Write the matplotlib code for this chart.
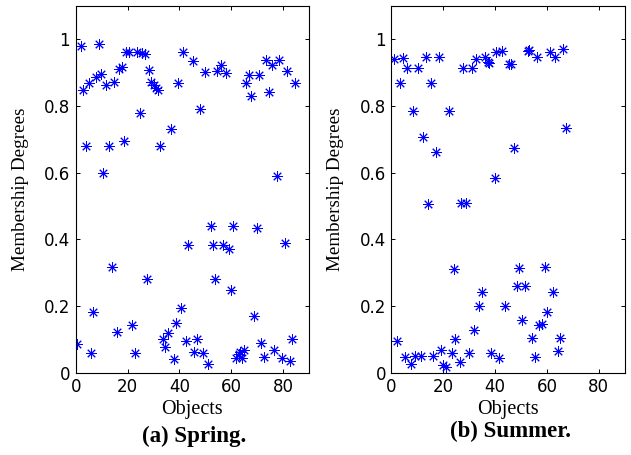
"""Membership degrees of objects per season, two side-by-side scatter panels."""

import matplotlib

matplotlib.use("Agg")
import matplotlib.pyplot as plt

# (a) Spring: object index vs membership degree
spring_x = [2, 9, 3, 5, 7.7, 9.8, 11.7, 14.8, 16.8, 17.9, 19.4, 20.6, 23.5, 25.7, 26.9,
            28.4, 29.2, 30.1, 31, 31.6, 24.7, 39.6, 41.5, 45.1, 48, 49.9, 54.6, 55.9, 57.8,
            65.7, 66.8, 67.6, 70.8, 73.4, 74.7, 75.6, 78.4, 81.5, 84.6,
            4, 12.9, 18.6, 32.5, 36.6, 10.7, 77.8,
            52, 60.5, 69.8, 43.4, 52.8, 56.7, 59, 80.7, 13.9,
            27.6, 53.9, 59.9, 6.8, 40.6, 21.6, 15.8, 38.6, 35.5, 33.5, 34.6, 0.6, 5.9, 22.9,
            42.4, 46.9, 37.8, 45.8, 49, 51, 68.9, 71.5, 72.6, 76.6, 83.5, 79.4, 82.6,
            62, 63, 63.5, 64, 65]
spring_y = [0.979, 0.985, 0.847, 0.867, 0.885, 0.895, 0.862, 0.872, 0.91, 0.917, 0.96, 0.962,
            0.96, 0.957, 0.955, 0.907, 0.872, 0.862, 0.854, 0.846, 0.779, 0.867, 0.96, 0.933,
            0.789, 0.901, 0.904, 0.922, 0.899, 0.867, 0.892, 0.829, 0.892, 0.937, 0.841, 0.922,
            0.937, 0.904, 0.867,
            0.678, 0.678, 0.693, 0.678, 0.729, 0.60, 0.591,
            0.44, 0.44, 0.435, 0.383, 0.383, 0.383, 0.37, 0.39, 0.316,
            0.281, 0.281, 0.248, 0.183, 0.195, 0.144, 0.122, 0.15, 0.119, 0.101, 0.077, 0.087,
            0.058, 0.058, 0.095, 0.102, 0.04, 0.061, 0.058, 0.026, 0.169, 0.089, 0.048, 0.067,
            0.102, 0.045, 0.035,
            0.045, 0.055, 0.062, 0.045, 0.068]

# (b) Summer
summer_x = [1.1, 4.3, 3.3, 6.1, 10.1, 8.3, 13.2, 15.2, 18.3, 22.2, 27.7, 30.9, 32.8, 36.1,
            37.1, 37.7, 40.5, 42.7, 45.3, 46.3, 52.5, 53.2, 56.1, 61.1, 63.1, 66.1, 67.2,
            12.3, 17.2, 14.2, 26.8, 28.7, 39.9, 47.2,
            2.2, 5.2, 7.4, 9.1, 11.2, 16.1, 19.1, 20, 20.9, 23.2, 24, 24.7, 26.4, 30, 31.9,
            33.9, 34.8, 38.4, 41.6, 43.8, 48.3, 49.2, 50.4, 51.5, 54.1, 55.3, 57, 58.2, 59.2,
            60, 62.3, 64.1, 65.1]
summer_y = [0.94, 0.944, 0.867, 0.914, 0.914, 0.784, 0.947, 0.867, 0.947, 0.784, 0.914, 0.914,
            0.94, 0.947, 0.93, 0.927, 0.96, 0.965, 0.925, 0.925, 0.964, 0.967, 0.947, 0.962,
            0.945, 0.969, 0.732,
            0.707, 0.661, 0.506, 0.508, 0.51, 0.583, 0.674,
            0.095, 0.048, 0.025, 0.051, 0.051, 0.051, 0.067, 0.023, 0.018, 0.058, 0.31, 0.102,
            0.031, 0.058, 0.129, 0.201, 0.243, 0.058, 0.045, 0.201, 0.259, 0.313, 0.157, 0.259,
            0.105, 0.046, 0.144, 0.147, 0.316, 0.181, 0.243, 0.064, 0.105]

x_ticks = [0, 20, 40, 60, 80]
y_ticks = [0, 0.2, 0.4, 0.6, 0.8, 1]
y_tick_labels = ["0", "0.2", "0.4", "0.6", "0.8", "1"]

SERIF = ["Liberation Serif", "DejaVu Serif"]
ASTERISK = (8, 2, 0)

fig = plt.figure(figsize=(6.31, 4.55), dpi=100)
panels = [
    (0.120, spring_x, spring_y, "(a) Spring.", 0.040),
    (0.6204, summer_x, summer_y, "(b) Summer.", 0.051),
]

for left, xs, ys, caption, cap_y in panels:
    ax = fig.add_axes([left, 0.1809, 0.3697, 0.8066])
    ax.plot(xs, ys, linestyle="none", marker=ASTERISK, markersize=7.5,
            markeredgewidth=0.7, color="#0000ff")
    ax.set_xlim(0, 90)
    ax.set_ylim(0, 1.1)
    ax.set_xticks(x_ticks)
    ax.set_yticks(y_ticks, labels=y_tick_labels)
    ax.tick_params(direction="in", length=3, width=0.7, top=True, right=True,
                   labelsize=12, pad=4)
    for spine in ax.spines.values():
        spine.set_linewidth(0.8)

    cx = left + 0.3697 / 2
    fig.text(cx, 1 - 409.5 / 455, "Objects", ha="center", va="center",
             family=SERIF, fontsize=14.5)
    fig.text(left - 55.5 / 631, 0.1809 + 0.8066 / 2, "Membership Degrees", rotation=90,
             ha="center", va="center", family=SERIF, fontsize=13.7)
    fig.text(cx + 0.003, cap_y, caption, ha="center", va="center",
             family=SERIF, fontsize=16.5, fontweight="bold")

fig.savefig("out.png", dpi=100)
